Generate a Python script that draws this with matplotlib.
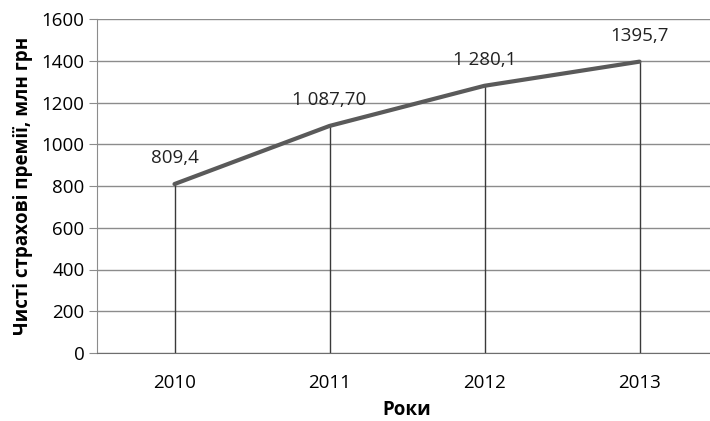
import matplotlib.pyplot as plt

years = ["2010", "2011", "2012", "2013"]
premiums = [809.4, 1087.70, 1280.1, 1395.7]
point_labels = ["809,4", "1 087,70", "1 280,1", "1395,7"]
y_ticks = [0, 200, 400, 600, 800, 1000, 1200, 1400, 1600]

plt.rcParams["font.family"] = ["Open Sans", "DejaVu Sans"]

fig = plt.figure(figsize=(7.10, 4.21), dpi=100)
ax = fig.add_axes([97 / 710, 68 / 421, 620 / 710, 334 / 421])

x = list(range(len(years)))

# drop lines from each point to the axis
ax.vlines(x, 0, premiums, color="#3a3a3a", linewidth=1.0, zorder=2)
ax.plot(x, premiums, color="#5a5a5a", linewidth=3.0, solid_capstyle="round", zorder=3)

for xi, v, lab in zip(x, premiums, point_labels):
    ax.annotate(lab, (xi, v), xytext=(0, 12), textcoords="offset points",
                ha="center", va="bottom", fontsize=13.5, color="#222222")

ax.set_xlim(-0.5, 3.5)
ax.set_ylim(0, 1600)
ax.set_yticks(y_ticks)
ax.set_xticks(x)
ax.set_xticklabels(years)
ax.yaxis.grid(True, color="#8c8c8c", linewidth=1.0)
ax.set_axisbelow(True)

for side in ["top", "right"]:
    ax.spines[side].set_visible(False)
ax.spines["left"].set_color("#8c8c8c")
ax.spines["bottom"].set_color("#6e6e6e")
ax.tick_params(axis="y", length=6, color="#8c8c8c", labelsize=13.5, pad=3)
ax.tick_params(axis="x", length=0, labelsize=13.5, pad=15)

ax.set_xlabel("Роки", fontsize=13.5, fontweight="bold", labelpad=6)
ax.set_ylabel("Чисті страхові премії, млн грн", fontsize=13.5, fontweight="bold", labelpad=6)

fig.savefig("out.png", dpi=100)
